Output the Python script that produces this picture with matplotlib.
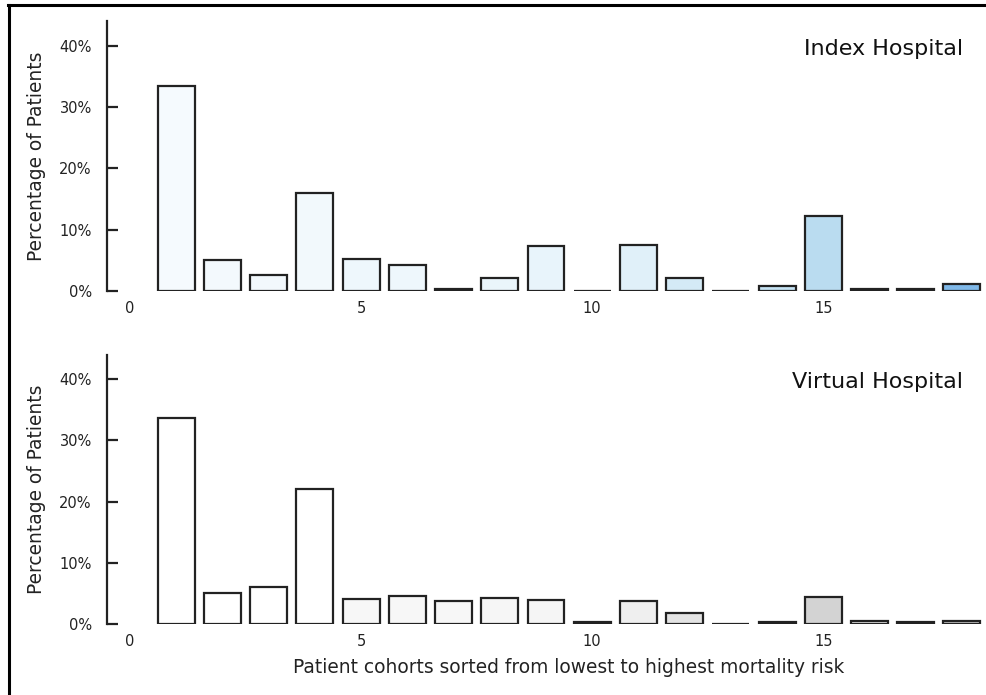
import matplotlib.pyplot as plt
from matplotlib.lines import Line2D
from matplotlib.transforms import blended_transform_factory

cohorts = list(range(1, 19))

index_pct = [33.4, 5.0, 2.6, 16.0, 5.3, 4.2, 0.4, 2.1, 7.4, 0.05,
             7.45, 2.2, 0.05, 0.8, 12.2, 0.4, 0.25, 1.1]
virtual_pct = [33.7, 5.05, 6.1, 22.1, 4.2, 4.7, 3.8, 4.3, 3.95, 0.3,
               3.85, 1.9, 0.1, 0.3, 4.4, 0.55, 0.3, 0.6]

index_colors = ['#f5fafe', '#f3f9fd', '#f2f8fc', '#f2f9fc', '#eef7fc', '#eef7fc',
                '#5d6a75', '#eaf5fb', '#e8f4fb', '#e6f3fa', '#e0f0f9', '#d4eaf6',
                '#cfe7f5', '#c5e3f4', '#badcf0', '#4f6272', '#303a44', '#7fb8e8']
virtual_colors = ['#ffffff', '#ffffff', '#ffffff', '#ffffff', '#f7f7f7', '#f7f7f7',
                  '#f7f7f7', '#f6f6f6', '#f5f5f5', '#222222', '#efefef', '#e3e3e3',
                  '#dddddd', '#222222', '#d3d3d3', '#e8e8e8', '#222222', '#c8c8c8']

xticks = [0, 5, 10, 15]
yticks = [0, 10, 20, 30, 40]
ytick_labels = ['0%', '10%', '20%', '30%', '40%']

fig = plt.figure(figsize=(9.86, 6.95), dpi=100)
ax_top = fig.add_axes([0.1085, 0.5813, 0.8905, 0.388])
ax_bot = fig.add_axes([0.1085, 0.1017, 0.8905, 0.388])


def draw_panel(ax, values, colors, title):
    ax.bar(cohorts, values, width=0.8, color=colors, edgecolor='#222222',
           linewidth=1.6)
    ax.set_xlim(-0.5, 18.5)
    ax.set_ylim(0, 44)
    for side in ['top', 'right', 'bottom']:
        ax.spines[side].set_visible(False)
    ax.spines['left'].set_linewidth(1.6)
    ax.spines['left'].set_color('#222222')
    ax.set_yticks(yticks)
    ax.set_yticklabels(ytick_labels)
    ax.set_xticks(xticks)
    ax.tick_params(axis='y', direction='in', length=8, width=1.6,
                   color='#222222', pad=11, labelsize=10.5, labelcolor='#222222')
    ax.tick_params(axis='x', length=0, pad=7, labelsize=10.5, labelcolor='#222222')
    ax.set_ylabel('Percentage of Patients', fontsize=13.4, color='#222222')
    ax.yaxis.set_label_coords(-0.069, 0.5)
    ax.text(0.975, 0.935, title, transform=ax.transAxes, ha='right',
            va='top', fontsize=16, color='#111111')


draw_panel(ax_top, index_pct, index_colors, 'Index Hospital')
draw_panel(ax_bot, virtual_pct, virtual_colors, 'Virtual Hospital')

# x label centred over the cohort bars
trans = blended_transform_factory(ax_bot.transData, fig.transFigure)
ax_bot.text(9.5, 0.039, 'Patient cohorts sorted from lowest to highest mortality risk',
            transform=trans, ha='center', va='center', fontsize=13.4,
            color='#222222')

# frame on the left and top edges
fig.add_artist(Line2D([0.0087, 0.0087], [0.0, 0.993], transform=fig.transFigure,
                      color='black', linewidth=2.2))
fig.add_artist(Line2D([0.0077, 1.0], [0.9921, 0.9921], transform=fig.transFigure,
                      color='black', linewidth=2.2))

fig.savefig('out.png', dpi=100)
